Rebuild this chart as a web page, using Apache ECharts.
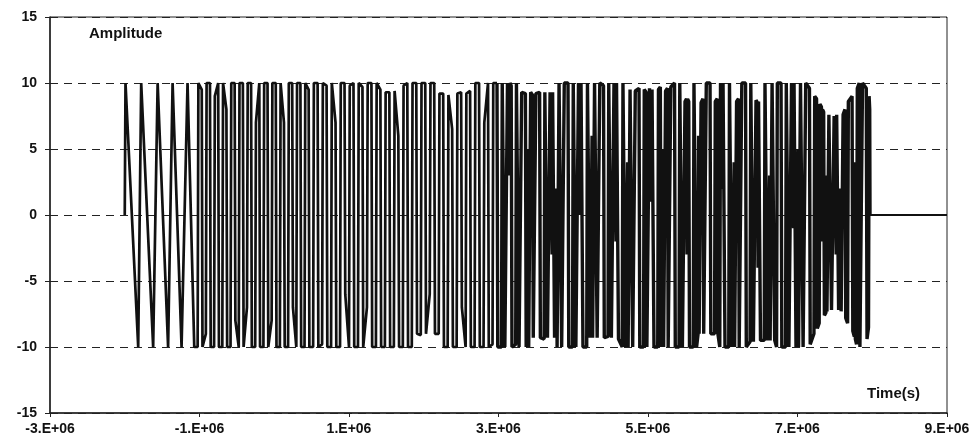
<!DOCTYPE html>
<html><head><meta charset="utf-8">
<script src="https://cdn.jsdelivr.net/npm/echarts@6/dist/echarts.min.js"></script>
<style>html,body{margin:0;padding:0;background:#fff}#c{width:980px;height:445px}</style>
</head><body><div id="c"></div>
<script>
// [time in units of 1e4 s, amplitude], segment by segment
const segA1 = [[-200,0],[-199,10],[-182,-10],[-178,10],[-162,-10],[-156,10],[-142,-10],[-136,10],[-124,-10],[-116,10]];
const segA2 = [[-107,-10],[-102.5,-10],[-101.5,10],[-97,9.5],[-96,-10],[-91.5,-9],[-90.5,10],[-86,10],[-85,-10],[-80.5,-10],[-79.5,9],[-75,10],[-74,-10],[-69.5,-10],[-68.5,10],[-64,8],[-63,-10],[-58.5,-10],[-57.5,10],[-53,10],[-52,-8],[-47.5,-10],[-46.5,10],[-42,10],[-41,-10],[-36.5,-7],[-35.5,10],[-31,10],[-30,-10],[-25.5,-10],[-24.5,7],[-20,10],[-19,-10],[-14.5,-10],[-13.5,10],[-9,10],[-8,-10],[-3.5,-8],[-2.5,10],[2,10],[3,-10],[7.5,-10],[8.5,10],[13,7],[14,-10],[18.5,-10],[19.5,10],[24,10],[25,-7],[29.5,-10],[30.5,10],[35,10],[36,-10],[40.5,-10],[41.5,10],[46,9.5]];
const segB = [
  [47,-10],[52,-10],[53,10],[58,10], [59,-10],[64,-9.8],[65,10],[70,9.8], [71,-10],[76,-10],[77,10],[82,7],
  [83,-10],[88,-10],[89,10],[94,10], [95,-6],[100,-10],[101,9.8],[106,10], [107,-10],[112,-10],[113,10],[118,9.7],
  [119,-10],[124,-7],[125,10],[130,10], [131,-10],[136,-10],[137,10],[142,9.5], [143,-10],[148,-10],[149,9.3],[154,9.3],
  [155,-10],[160,-10],[161,9.4],[166,6], [167,-10],[172,-10],[173,9.8],[178,10], [179,-10],[184,-10],[185,10],[190,10],
  [191,-9],[196,-9.1],[197,10],[202,10], [203,-9],[208,-6],[209,10],[214,10], [215,-9],[220,-9],[221,9.2],[226,9.2],
  [227,-10],[232,-10],[233,9.1],[238,6.5], [239,-10],[244,-10],[245,9.2],[250,9.3], [251,-7],[256,-10],[257,9.2],[262,9.4],
  [263,-10],[268,-10],[269,10],[274,10], [275,-10],[280,-10],[281,7],[286,10], [287,-10],[292,-9.8],[293,10],[298,10]];
const segC = [
  [298,10],
  [299,-10],[304,-10],[305,10],[307.5,10],
  [308.5,-10],[311,-10],[312,10],[314,10],[314.7,3],[315.4,10],[317,9.8],
  [318,-10],[323,-9.8],[324,10],[326.5,9.9],
  [327.5,-10],[330,-10],[331,9.3],[336,9.2],
  [337,-10],[339,-10],[339.7,5],[340.4,-10],[342,-10],[343,9.3],[345.5,9.1],
  [346.5,-9.3],[349,-9.2],[350,9.2],[355,9.3],
  [356,-9.3],[361,-9.4],[362,9.3],[364.5,9.4],
  [365.5,-9.3],[368,-9.2],[369,9.3],[371,9.3],[371.7,-3],[372.4,9.3],[374,9.3],
  [375,-9.3],[377,-9.4],[377.7,2],[378.4,-10],[380,-10],[381,10],[383.5,10],
  [384.5,-10],[387,-10],[388,10],[393,10],
  [394,-10],[399,-10],[400,10],[402.5,9.9],
  [403.5,-10],[406,-10],[407,10],[409,10],[409.7,0],[410.4,10],[412,10],
  [413,-10],[418,-10],[419,10],[421.5,10],
  [422.5,-9.3],[424.5,-9.3],[425.2,6],[425.9,-9.3],[427.5,-9.2],[428.5,10],[431,10],
  [432,-9.3],[434.5,-9.3],[435.5,10],[440.5,9.8],
  [441.5,-9.3],[446.5,-9.2],[447.5,10],[450,10],
  [451,-9.3],[453.5,-9.4],[454.5,10],[456.5,10],[457.2,-2],[457.9,10],[459.5,10],
  [460.5,-9.4],[465.5,-10],[466.5,10],[469,9.9],
  [470,-10],[472,-10],[472.7,4],[473.4,-10],[475,-10],[476,9.5],[478.5,9.5],
  [479.5,-10],[482,-10],[483,9.4],[488,9.6],
  [489,-10],[494,-10],[495,9.5],[497.5,9.3],
  [498.5,-10],[501,-10],[502,9.6],[504,9.6],[504.7,1],[505.4,9.5],[507,9.4],
  [508,-10],[513,-10],[514,9.5],[516.5,9.7],
  [517.5,-10],[519.5,-10],[520.2,5],[520.9,-10],[522.5,-10],[523.5,9.4],[526,9.6],
  [527,-10],[529.5,-10],[530.5,9.7],[535.5,10]];
const segD = [
  [536.5,-10],[541.5,-10],[542.5,10],[545,10],
  [546,-10],[548.5,-10],[549.5,8.6],[551.5,8.8],[552.2,-3],[552.9,8.8],[554.5,8.6],
  [555.5,-10],[560.5,-10],[561.5,10],[564,10],
  [565,-10],[567,-9],[567.7,6],[568.4,-9],[570,-9],[571,8.5],[573.5,8.8],
  [574.5,-9],[577,-9],[578,10],[583,10],
  [584,-9],[589,-9],[590,8.6],[592.5,8.8],
  [593.5,-9],[596,-10],[597,10],[599,10],[599.7,2],[600.4,10],[602,10],
  [603,-10],[608,-10],[609,10],[611.5,10],
  [612.5,-10],[614.5,-10],[615.2,4],[615.9,-10],[617.5,-10],[618.5,8.6],[621,8.8],
  [622,-10],[624.5,-10],[625.5,10],[630.5,10],
  [631.5,-10],[636.5,-9.6],[637.5,10],[640,10],
  [641,-9.6],[643.5,-9.5],[644.5,8.7],[646.5,8.5],[647.2,-4],[647.9,8.6],[649.5,8.7],
  [650.5,-9.5],[655.5,-9.5],[656.5,10],[659,10],
  [660,-9.5],[662,-9.4],[662.7,3],[663.4,-9.5],[665,-9.5],[666,10],[668.5,10],
  [669.5,-9.5],[672,-10],[673,10],[678,10],
  [679,-10],[684,-10],[685,10],[687.5,10],
  [688.5,-10],[691,-10],[692,10],[694,10],[694.7,-1],[695.4,10],[697,10],
  [698,-10],[700,-10],[700.7,5],[701.4,-10],[703,-10],[704,10],[706.5,10],
  [707.5,-10],[710,-10],[711,10],[716,9.6],
  [717,-9.8],[722,-9.0],[723,9.0],[725.5,8.8],
  [726.5,-8.6],[729,-8.2],[730,8.4],[732,8.2],[732.7,-2],[733.4,8.0],[735,7.8],
  [736,-7.6],[738,-7.4],[738.7,3],[739.4,-7.3],[741,-7.3],[742,7.6],[744.5,7.5],
  [745.5,-7.2],[748,-7.2],[749,7.5],[751,7.5],[751.7,-3],[752.4,7.6],[754,7.5],
  [755,-7.2],[757,-7.3],[757.7,2],[758.4,-7.3],[760,-7.4],[761,7.6],[763.5,8.0],
  [764.5,-7.8],[767,-8.2],[768,8.6],[773,9.0],
  [774,-8.8],[776,-9.2],[776.7,4],[777.4,-9.4],[779,-9.8],[780,9.6],[782.5,10],
  [783.5,-10],[786,-10],[787,10],[792,9.6],
  [793,-9.4],[795,-8.5],[795.8,9],[796.6,8],[797,0]];
const segTail = [[797,0],[900,0]];

const toData = seg => seg.map(p => [p[0] * 1e4, p[1]]);
const earlyData = toData(segA1.concat(segA2, segB));
const denseData = toData(segC.concat(segD));
const tailData = toData(segTail);

const chart = echarts.init(document.getElementById('c'), null, {renderer: 'canvas'});
const font = 'Liberation Sans, Arial, sans-serif';
const lineSeries = (d, w) => ({
  type: 'line', data: d, showSymbol: false, symbol: 'none',
  lineStyle: {color: '#111', width: w, join: 'bevel'}, z: 3
});
chart.setOption({
  animation: false,
  backgroundColor: '#ffffff',
  grid: {left: 50, right: 33, top: 17, bottom: 32, show: true, borderColor: '#222', borderWidth: 1, backgroundColor: 'transparent'},
  xAxis: {
    type: 'value', min: -3e6, max: 9e6, interval: 2e6,
    axisLine: {show: true, onZero: false, lineStyle: {color: '#222', width: 1.5}},
    axisTick: {show: true, length: 4, lineStyle: {color: '#222'}},
    splitLine: {show: false},
    axisLabel: {color: '#111', fontFamily: font, fontSize: 14, fontWeight: 'bold', margin: 9,
      formatter: v => Math.round(v / 1e6) + '.E+06'}
  },
  yAxis: {
    type: 'value', min: -15, max: 15, interval: 5,
    axisLine: {show: true, onZero: false, lineStyle: {color: '#222', width: 1.5}},
    axisTick: {show: true, length: 5, lineStyle: {color: '#222'}},
    splitLine: {show: true, lineStyle: {color: '#222', width: 1.1, type: [8, 6]}},
    axisLabel: {color: '#111', fontFamily: font, fontSize: 14, fontWeight: 'bold', margin: 13}
  },
  graphic: [
    {type: 'text', left: 89, top: 26, style: {text: 'Amplitude', fill: '#111', font: 'bold 15px ' + font}},
    {type: 'text', left: 867, top: 386, style: {text: 'Time(s)', fill: '#111', font: 'bold 15px ' + font}}
  ],
  series: [lineSeries(earlyData, 2.7), lineSeries(denseData, 3.4), lineSeries(tailData, 2)]
});
</script></body></html>
